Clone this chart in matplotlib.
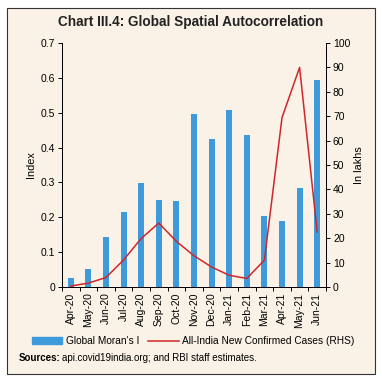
import numpy as np
import matplotlib.pyplot as plt
from matplotlib.patches import Rectangle

months = ['Apr-20', 'May-20', 'Jun-20', 'Jul-20', 'Aug-20', 'Sep-20', 'Oct-20',
          'Nov-20', 'Dec-20', 'Jan-21', 'Feb-21', 'Mar-21', 'Apr-21', 'May-21', 'Jun-21']
morans_i = [0.026, 0.052, 0.144, 0.215, 0.298, 0.250, 0.247,
            0.497, 0.425, 0.508, 0.437, 0.204, 0.190, 0.283, 0.594]
new_cases = [0.4, 1.6, 3.9, 11.1, 19.9, 26.2, 18.7,
             12.8, 8.2, 4.8, 3.5, 11.0, 69.4, 90.0, 22.5]

bg = '#FAF2E6'
blue = '#3D9BDB'
red = '#D0262B'
plt.rcParams['font.family'] = 'Liberation Sans'

fig = plt.figure(figsize=(3.82, 3.82), dpi=100)
fig.patch.set_facecolor('white')
fig.patches.append(Rectangle((7 / 382, 8 / 382), 368 / 382, 366 / 382, transform=fig.transFigure,
                             facecolor=bg, edgecolor='#333333', lw=0.8, zorder=-10))

ax = fig.add_axes([62 / 382, 1 - 287 / 382, 264 / 382, 244 / 382])
ax.set_facecolor(bg)
x = np.arange(len(months))
ax.bar(x, morans_i, width=0.33, color=blue, zorder=2)
ax.set_xlim(-0.5, len(months) - 0.5)
ax.set_ylim(0, 0.7)
ax.set_yticks(np.arange(0, 0.71, 0.1))
ax.set_yticklabels(['0', '0.1', '0.2', '0.3', '0.4', '0.5', '0.6', '0.7'])
ax.set_ylabel('Index', fontsize=7.8, labelpad=3)
ax.set_xticks(x)
ax.set_xticklabels(months, rotation=90, fontsize=7.5)
ax.tick_params(axis='x', length=0, pad=4)
ax.set_xticks(np.arange(-0.5, len(months), 1), minor=True)
ax.tick_params(axis='x', which='minor', length=3, width=0.7)
ax.tick_params(axis='y', labelsize=7.5, length=3, width=0.7, pad=2)
ax.spines['top'].set_visible(False)
for s in ['left', 'bottom', 'right']:
    ax.spines[s].set_linewidth(0.7)

ax2 = ax.twinx()
ax2.plot(x, new_cases, color=red, lw=1.1, zorder=3)
ax2.set_ylim(0, 100)
ax2.set_yticks(np.arange(0, 101, 10))
ax2.set_ylabel('In lakhs', fontsize=7.8, labelpad=3)
ax2.tick_params(axis='y', labelsize=7.5, length=3, width=0.7, pad=2)
ax2.spines['top'].set_visible(False)
for s in ['left', 'bottom', 'right']:
    ax2.spines[s].set_linewidth(0.7)

fig.text(191 / 382, 1 - 22 / 382, 'Chart III.4: Global Spatial Autocorrelation',
         ha='center', va='center', fontsize=9.8, fontweight='bold', color='#222222')

h1 = Rectangle((0, 0), 1, 1, color=blue)
h2, = ax2.plot([], [], color=red, lw=1.1)
fig.legend([h1, h2], ["Global Moran's I", 'All-India New Confirmed Cases (RHS)'],
           loc='center', bbox_to_anchor=(193 / 382, 1 - 341 / 382), ncol=2, frameon=False,
           fontsize=7.3, handlelength=3.0, handleheight=0.65, handletextpad=0.35,
           columnspacing=0.9, borderpad=0)

fig.text(19 / 382, 1 - 358 / 382, 'Sources:', fontsize=7, fontweight='bold', va='center')
fig.text(62 / 382, 1 - 358 / 382, 'api.covid19india.org; and RBI staff estimates.',
         fontsize=7, va='center')

plt.savefig('out.png', dpi=100, facecolor=fig.get_facecolor())
